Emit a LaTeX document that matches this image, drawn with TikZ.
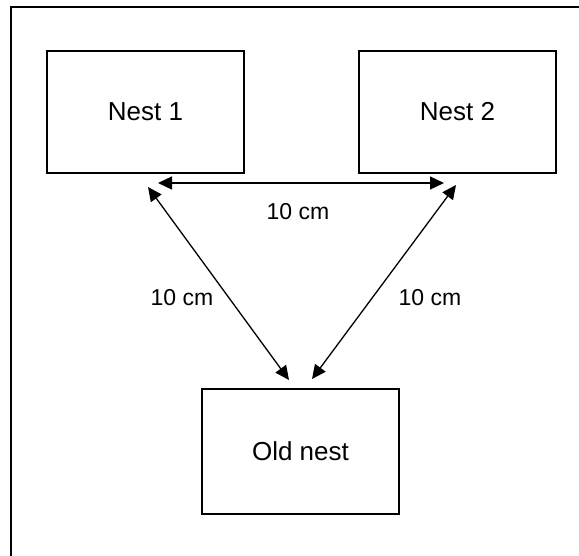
\documentclass[tikz,border=0pt]{standalone}
\usepackage{fontspec}
\setmainfont{Liberation Sans}
\usetikzlibrary{arrows.meta}
\begin{document}
\begin{tikzpicture}[x=1pt,y=-1pt,
  nestbox/.style={draw=black, line width=2pt, minimum width=197pt, inner sep=0pt, font=\fontsize{26}{30}\selectfont},
  dist/.style={line width=1.3pt, {Triangle[length=14pt,width=13pt]}-{Triangle[length=14pt,width=13pt]}},
  distlabel/.style={font=\fontsize{23}{27}\selectfont, inner sep=0pt}]
\useasboundingbox (0,0) rectangle (579,555);
\draw[line width=2pt] (11,556) -- (11,7) -- (580,7);
\node[nestbox, minimum height=122pt] (n1) at (145.5,112) {Nest 1};
\node[nestbox, minimum height=122pt] (n2) at (457.5,112) {Nest 2};
\node[nestbox, minimum height=125pt] (old) at (300.5,451.5) {Old nest};
\coordinate (h1) at (158,183);
\coordinate (h2) at (444,183);
\coordinate (l1) at (148,187);
\coordinate (l2) at (289,380);
\coordinate (r1) at (456,185);
\coordinate (r2) at (312,379);
\draw[dist] (h1) -- (h2);
\draw[dist] (l1) -- (l2);
\draw[dist] (r1) -- (r2);
\node[distlabel] (lh) at (298,212) {10 cm};
\node[distlabel] (ll) at (182,298) {10 cm};
\node[distlabel] (lr) at (430,298) {10 cm};
\end{tikzpicture}
\end{document}
